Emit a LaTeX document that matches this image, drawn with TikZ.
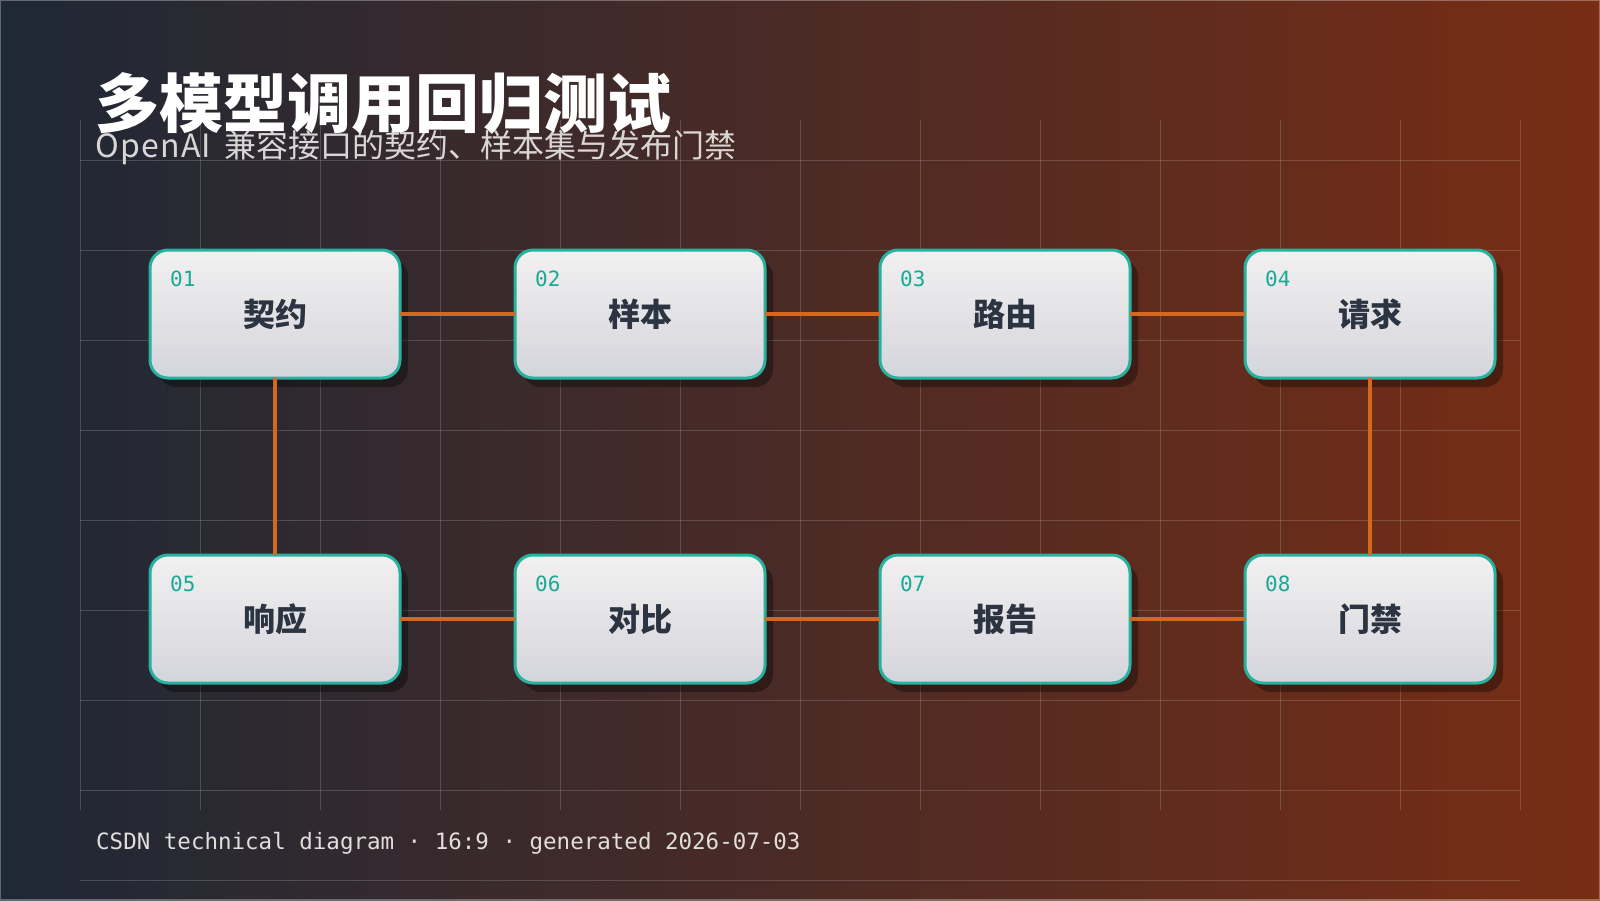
\documentclass[tikz,border=0pt]{standalone}
\usepackage{fontspec}
\usetikzlibrary{shadows,calc}
\newfontfamily\cjk{Noto Sans CJK SC}
\newfontfamily\mono{DejaVu Sans Mono}
\definecolor{bgL}{RGB}{30,40,54}
\definecolor{bgR}{RGB}{120,45,20}
\definecolor{tealb}{RGB}{38,178,158}
\definecolor{numc}{RGB}{24,170,150}
\definecolor{orng}{RGB}{212,104,30}
\definecolor{txt}{RGB}{43,52,64}
\definecolor{ntop}{RGB}{242,240,240}
\definecolor{nbot}{RGB}{212,213,220}
\definecolor{subc}{RGB}{218,214,214}
\definecolor{footc}{RGB}{226,222,220}
\begin{document}
\begin{tikzpicture}[x=1pt,y=-1pt,
  stepbox/.style={rounded corners=18pt, draw=tealb, line width=3pt,
    top color=ntop, bottom color=nbot, minimum width=250pt, minimum height=128pt,
    inner sep=0pt, outer sep=0pt, text=txt,
    font=\cjk\bfseries\fontsize{32}{32}\selectfont,
    drop shadow={shadow xshift=8pt, shadow yshift=-9pt, opacity=0.35, fill=black}},
  num/.style={anchor=west, font=\mono\fontsize{21}{21}\selectfont, text=numc, inner sep=0pt},
  link/.style={draw=orng, line width=4pt},
  gridline/.style={draw=white, opacity=0.17, line width=1pt}
]
\useasboundingbox (0,0) rectangle (1600,900);
\shade[left color=bgL, right color=bgR] (0,0) rectangle (1600,900);
\draw[white, opacity=0.3, line width=1.5pt] (0,0) rectangle (1600,900);

% grid
\foreach \x in {80,200,...,1520} \draw[gridline] (\x,120) -- (\x,810);
\foreach \y in {160,250,...,790} \draw[gridline] (80,\y) -- (1520,\y);
\draw[gridline] (80,880) -- (1520,880);

% titles
\node[anchor=base west, inner sep=0pt, text=subc, font=\cjk\fontsize{32}{32}\selectfont] (sub) at (95,157) {{\addfontfeatures{LetterSpace=4}OpenAI}\hspace{13pt}兼容接口的契约、样本集与发布门禁};
\node[anchor=base west, inner sep=0pt, text=white, font=\cjk\bfseries\fontsize{64}{64}\selectfont] (title) at (95,127) {多模型调用回归测试};

% nodes
\node[stepbox] (n1) at (275,314) {契约};
\node[stepbox] (n2) at (640,314) {样本};
\node[stepbox] (n3) at (1005,314) {路由};
\node[stepbox] (n4) at (1370,314) {请求};
\node[stepbox] (n5) at (275,619) {响应};
\node[stepbox] (n6) at (640,619) {对比};
\node[stepbox] (n7) at (1005,619) {报告};
\node[stepbox] (n8) at (1370,619) {门禁};

\foreach \i in {1,...,8} \node[num] (k\i) at ($(n\i.north west)+(20,29)$) {0\i};

% links
\draw[link] (n1.east) -- (n2.west);
\draw[link] (n2.east) -- (n3.west);
\draw[link] (n3.east) -- (n4.west);
\draw[link] (n4.south) -- (n8.north);
\draw[link] (n1.south) -- (n5.north);
\draw[link] (n5.east) -- (n6.west);
\draw[link] (n6.east) -- (n7.west);
\draw[link] (n7.east) -- (n8.west);

% footer
\node[anchor=west, inner sep=0pt, text=footc, font=\mono\fontsize{22.5}{22.5}\selectfont] (foot) at (96,843) {CSDN technical diagram · 16:9 · generated 2026-07-03};
\end{tikzpicture}
\end{document}
